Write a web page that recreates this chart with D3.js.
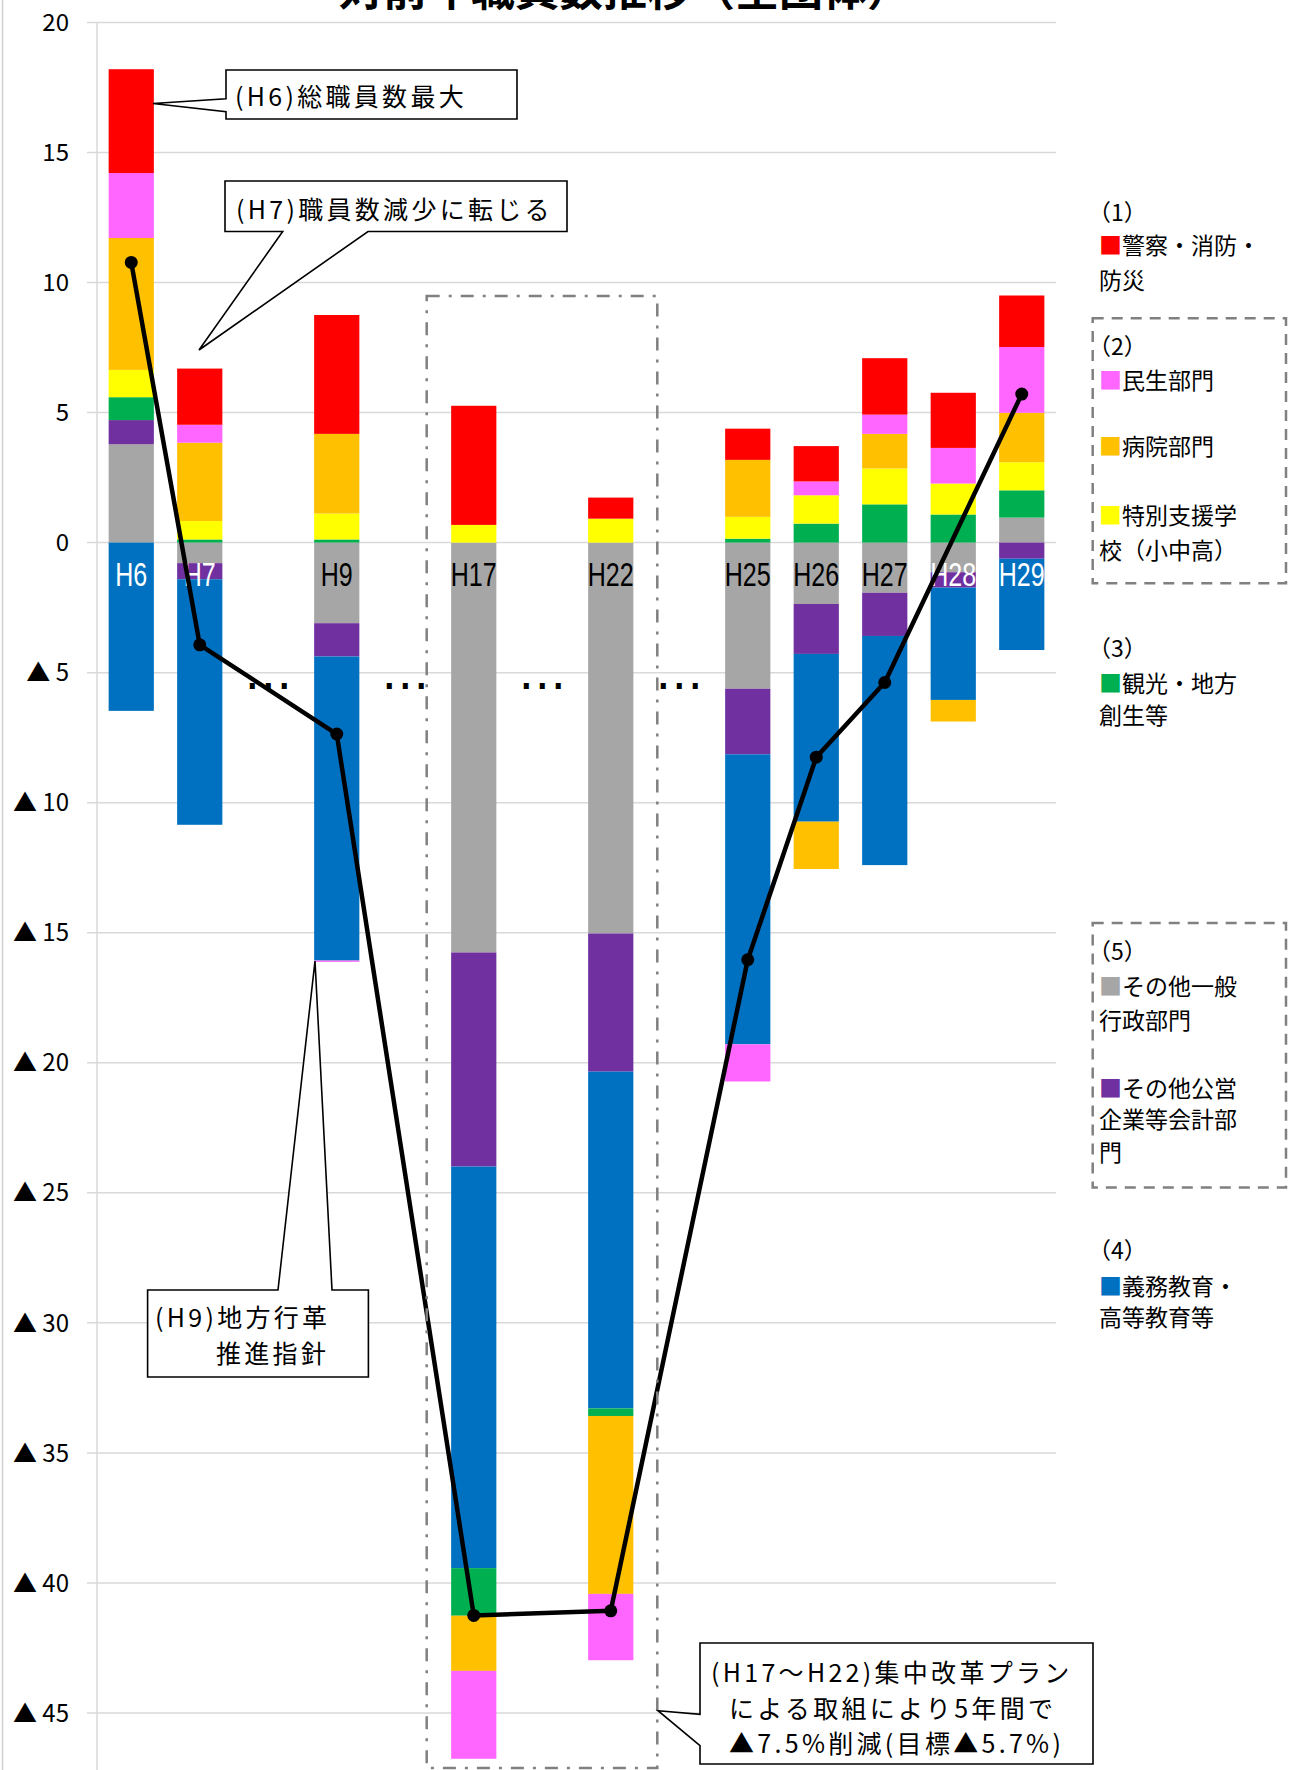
<!DOCTYPE html>
<html><head><meta charset="utf-8">
<script src="https://cdn.jsdelivr.net/npm/d3@7"></script>
<style>
body{margin:0;background:#fff}
svg{display:block}
text{font-family:"Noto Sans CJK JP","Noto Sans",sans-serif}
</style>
</head><body>
<svg id="c" width="1290" height="1770"></svg>
<script>
// ---------------- data ----------------
const slotLabels = ["H6","H7","…","H9","…","H17","…","H22","…","H25","H26","H27","H28","H29"];
const years      = ["H6","H7","H9","H17","H22","H25","H26","H27","H28","H29"];
const whiteLabels = ["H6","H7","H28","H29"];

const seriesKeys  = ["gray","purple","blue","green","yellow","orange","pink","red"];
const seriesNames = ["その他一般行政部門","その他公営企業等会計部門","義務教育・高等教育等","観光・地方創生等","特別支援学校（小中高）","病院部門","民生部門","警察・消防・防災"];
const seriesColors = ["#A6A6A6","#7030A0","#0070C0","#00B050","#FFFF00","#FFC000","#FF66FF","#FF0000"];

const gray   = [ 3.78, -0.79, -3.10, -15.76, -15.03, -5.62, -2.36, -1.93, -1.14,  0.96];
const purple = [ 0.93, -0.62, -1.28,  -8.23,  -5.31, -2.52, -1.92, -1.66, -0.59, -0.62];
const blue   = [-6.47, -9.44,-11.69, -15.44, -12.95,-11.15, -6.45, -8.81, -4.32, -3.51];
const green  = [ 0.88,  0.12,  0.12,  -1.83,  -0.29,  0.15,  0.73,  1.47,  1.08,  1.05];
const yellow = [ 1.05,  0.71,  1.00,   0.68,   0.92,  0.84,  1.09,  1.38,  1.19,  1.08];
const orange = [ 5.07,  3.01,  3.06,  -2.12,  -6.84,  2.19, -1.82,  1.33, -0.83,  1.90];
const pink   = [ 2.50,  0.69, -0.05,  -3.38,  -2.55, -1.43,  0.53,  0.74,  1.37,  2.53];
const red    = [ 3.99,  2.16,  4.57,   4.58,   0.81,  1.20,  1.36,  2.17,  2.12,  1.98];
const totalLine = [10.77, -3.93, -7.36, -41.25, -41.07, -16.04, -8.25, -5.38, null, 5.71];

const yTicks = [20,15,10,5,0,-5,-10,-15,-20,-25,-30,-35,-40,-45];

const legendRows = [
  ["（1）",220.7,null],["警察・消防・",254.4,"red"],["防災",288.7,null],
  ["（2）",355.4,null],["民生部門",388.7,"pink"],["病院部門",455.4,"orange"],
  ["特別支援学",523.7,"yellow"],["校（小中高）",559.4,null],
  ["（3）",656.5,null],["観光・地方",692.4,"green"],["創生等",723.5,null],
  ["（5）",960.4,null],["その他一般",995.3,"gray"],["行政部門",1028.7,null],
  ["その他公営",1096.7,"purple"],["企業等会計部",1127.7,null],["門",1161.3,null],
  ["（4）",1259.4,null],["義務教育・",1295.3,"blue"],["高等教育等",1326.4,null]
];

// ---------------- build ----------------
const seriesValues = {gray,purple,blue,green,yellow,orange,pink,red};
const colorOf = Object.fromEntries(seriesKeys.map((k,i)=>[k,seriesColors[i]]));
const table = years.map((yr,i)=>{
  const row = {year: yr, slot: slotLabels.indexOf(yr)};
  seriesKeys.forEach(k=>row[k]=seriesValues[k][i]);
  return row;
});

const svg = d3.select("#c");
const x = d3.scaleBand().domain(d3.range(slotLabels.length)).range([97,1056]).paddingInner(0.34).paddingOuter(0.17);
const y = d3.scaleLinear().domain([20,-45]).range([22.4,1713.0]);
const cx = i => x(i) + x.bandwidth()/2;

// outer border
svg.append("line").attr("x1",2.5).attr("x2",2.5).attr("y1",0).attr("y2",1770).attr("stroke","#d0d0d0").attr("stroke-width",1.5);

// title (cut at top)
svg.append("text").attr("x",625).attr("y",6).attr("text-anchor","middle")
  .attr("font-size",44).attr("font-weight","bold").attr("fill","#000").text("対前年職員数推移（全団体）");

// gridlines
svg.append("g").selectAll("line").data(yTicks).join("line")
  .attr("x1",87).attr("x2",1056).attr("y1",d=>y(d)).attr("y2",d=>y(d))
  .attr("stroke","#d9d9d9").attr("stroke-width",1.5);
svg.append("line").attr("x1",97).attr("x2",97).attr("y1",y(20)).attr("y2",1770).attr("stroke","#d9d9d9").attr("stroke-width",1.5);

// y tick labels
svg.append("g").selectAll("text").data(yTicks).join("text")
  .attr("x",69).attr("y",d=>y(d)).attr("dy","0.36em").attr("text-anchor","end")
  .attr("font-size",24).attr("fill","#000")
  .text(d=>d>=0? String(d) : "▲ "+(-d));

// bars
const stacked = d3.stack().keys(seriesKeys).offset(d3.stackOffsetDiverging)(table);
svg.append("g").selectAll("g").data(stacked).join("g")
  .attr("fill",s=>colorOf[s.key])
  .selectAll("rect").data(s=>s).join("rect")
  .attr("x",d=>x(d.data.slot)).attr("width",x.bandwidth())
  .attr("y",d=>y(Math.max(d[0],d[1]))).attr("height",d=>Math.abs(y(d[0])-y(d[1])));

// category labels (condensed)
svg.append("g").selectAll("text").data(slotLabels.map((l,i)=>({l,i})).filter(d=>d.l!=="…")).join("text")
  .attr("transform",d=>`translate(${cx(d.i)},${y(0)+43}) scale(0.76,1)`)
  .attr("text-anchor","middle")
  .attr("font-size",33).style("font-family",'"Liberation Sans",Arial,sans-serif')
  .attr("fill",d=>whiteLabels.includes(d.l)?"#fff":"#000").text(d=>d.l);
// gap labels
svg.append("g").selectAll("text").data(slotLabels.map((l,i)=>({l,i})).filter(d=>d.l==="…")).join("text")
  .attr("x",d=>cx(d.i)).attr("y",y(0)+146).attr("text-anchor","middle")
  .attr("font-size",48).style("font-family",'"DejaVu Sans",sans-serif').attr("fill","#000").text(d=>d.l);

// total line
const linePts = table.map((r,i)=>({slot:r.slot,v:totalLine[i]})).filter(d=>d.v!==null);
svg.append("path").datum(linePts)
  .attr("d",d3.line().x(d=>cx(d.slot)).y(d=>y(d.v)))
  .attr("fill","none").attr("stroke","#000").attr("stroke-width",4.5).attr("stroke-linejoin","round");
svg.append("g").selectAll("circle").data(linePts).join("circle")
  .attr("cx",d=>cx(d.slot)).attr("cy",d=>y(d.v)).attr("r",6.5).attr("fill","#000");

// dash-dot rectangle around H17-H22
svg.append("rect").attr("x",426.7).attr("y",296).attr("width",230.6).attr("height",1472)
  .attr("fill","none").attr("stroke","#808080").attr("stroke-width",2.5).attr("stroke-dasharray","13 9 3 9");

// callouts
function callout(pathD, lines){
  svg.append("path").attr("d",pathD).attr("fill","#fff").attr("stroke","#000").attr("stroke-width",1.6);
  lines.forEach(([t,tx,ty])=>{
    svg.append("text").attr("x",tx).attr("y",ty).attr("font-size",25).attr("letter-spacing",3.3).attr("fill","#000").text(t);
  });
}
callout("M226,70 H517 V119 H226 V111.7 L153,103.5 L226,98.7 Z", [["(H6)総職員数最大",235,106]]);
callout("M225,181 H567 V231.5 H368 L199,350 L282.7,231.5 H225 Z", [["(H7)職員数減少に転じる",236,219]]);
callout("M147.6,1290 H278 L315,961 L332,1290 H368.4 V1377 H147.6 Z", [["(H9)地方行革",155,1327],["推進指針",216,1363]]);
callout("M700,1643 H1093 V1764 H700 V1745.7 L658,1710.7 L700,1714.3 Z",
  [["(H17～H22)集中改革プラン",711,1682],["による取組により5年間で",729,1718],["▲7.5%削減(目標▲5.7%)",729,1753]]);

// legend
svg.append("rect").attr("x",1092.7).attr("y",318.3).attr("width",193.3).attr("height",265)
  .attr("fill","none").attr("stroke","#808080").attr("stroke-width",2.5).attr("stroke-dasharray","11 8");
svg.append("rect").attr("x",1092.7).attr("y",923).attr("width",193.3).attr("height",264.5)
  .attr("fill","none").attr("stroke","#808080").attr("stroke-width",2.5).attr("stroke-dasharray","11 8");
legendRows.forEach(([t,ty,key])=>{
  const tx = t.startsWith("（") ? 1088 : 1099;
  const el = svg.append("text").attr("x",tx).attr("y",ty).attr("font-size",23).attr("fill","#000");
  if(key){ el.append("tspan").attr("fill",colorOf[key]).text("■"); }
  el.append("tspan").text(t);
});
</script>
</body></html>
